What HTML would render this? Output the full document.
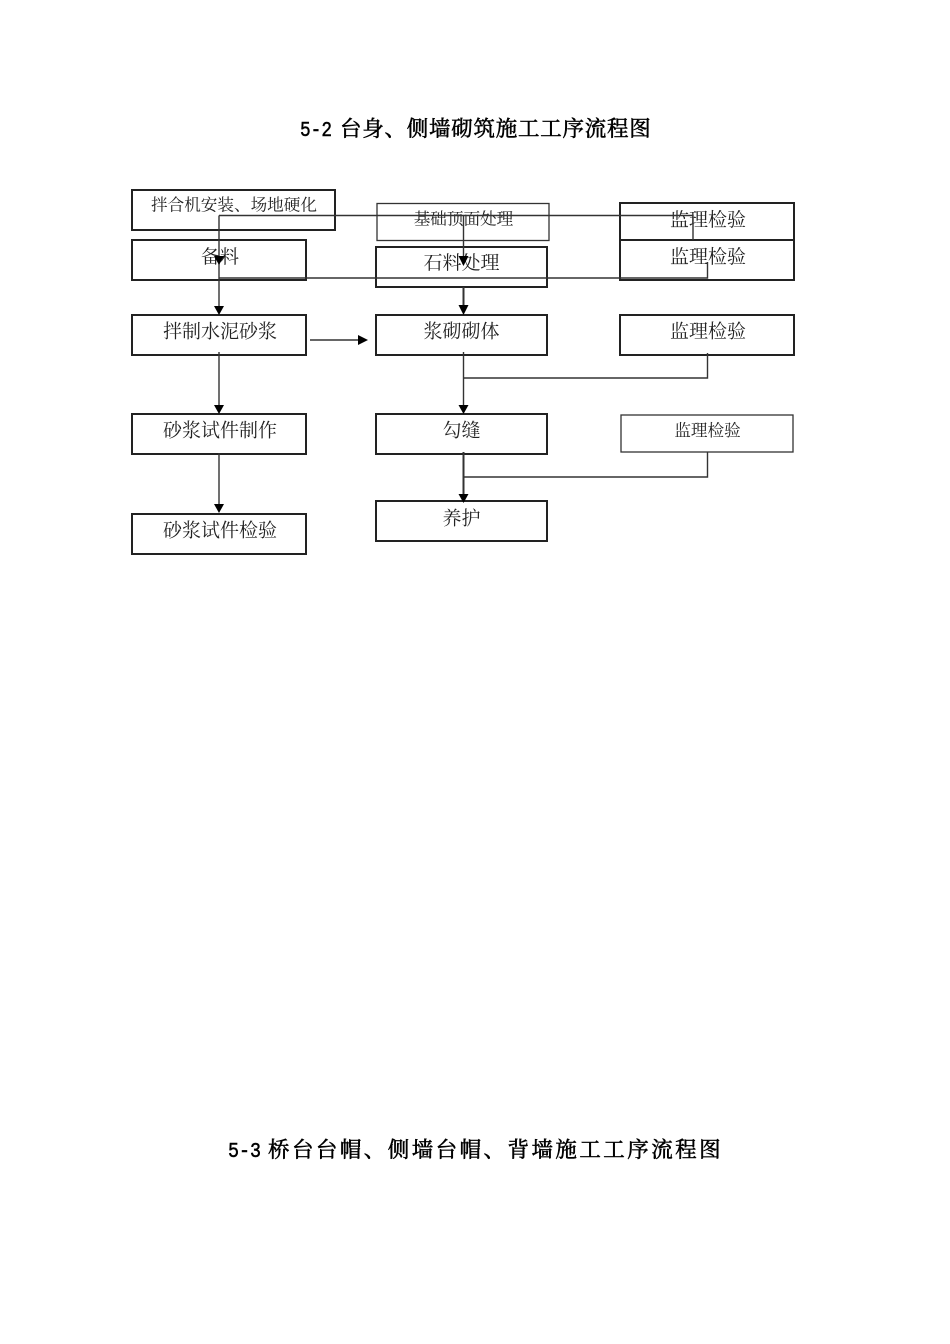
<!DOCTYPE html>
<html><head><meta charset="utf-8"><style>
html,body{margin:0;padding:0;background:#fff}
svg{display:block}
text{font-family:"Liberation Serif","Noto Serif CJK SC",serif;fill:#222}
.t{font-size:19px;text-anchor:middle}
.s{font-size:16.6px;text-anchor:middle}
.h{font-size:21.5px;fill:#000;stroke:#000;stroke-width:.55}
.h1{letter-spacing:.75px}
.h2{letter-spacing:2.45px}
.m{font-family:"Liberation Mono",monospace;font-size:21px;fill:#000;stroke:#000;stroke-width:.5}
rect{fill:none;stroke:#222;stroke-width:2}
rect.n{stroke-width:1.3;stroke:#333}
path.l{fill:none;stroke:#333;stroke-width:1.4}
path.a{fill:#000;stroke:none}
</style></head><body>
<svg width="950" height="1344" viewBox="0 0 950 1344" xmlns="http://www.w3.org/2000/svg">
<text class="m" x="300" y="136" textLength="32" lengthAdjust="spacingAndGlyphs">5-2</text>
<text class="h h1" x="340" y="136">台身、侧墙砌筑施工工序流程图</text>

<rect x="132" y="190" width="203" height="40"/>
<rect x="132" y="240" width="174" height="40"/>
<rect x="132" y="315" width="174" height="40"/>
<rect x="132" y="414" width="174" height="40"/>
<rect x="132" y="514" width="174" height="40"/>
<rect class="n" x="377" y="203.500" width="172" height="37"/>
<rect x="376" y="247" width="171" height="40"/>
<rect x="376" y="315" width="171" height="40"/>
<rect x="376" y="414" width="171" height="40"/>
<rect x="376" y="501" width="171" height="40"/>
<rect x="620" y="203" width="174" height="37"/>
<rect x="620" y="240" width="174" height="40"/>
<rect x="620" y="315" width="174" height="40"/>
<rect class="n" x="621" y="415" width="172" height="37"/>

<text class="s" x="234" y="210.500">拌合机安装、场地硬化</text>
<text class="t" x="220" y="263">备料</text>
<text class="t" x="220" y="337.500">拌制水泥砂浆</text>
<text class="t" x="220" y="436.500">砂浆试件制作</text>
<text class="t" x="220" y="536.500">砂浆试件检验</text>
<text class="s" x="463.500" y="224.500">基础顶面处理</text>
<text class="t" x="461.500" y="269">石料处理</text>
<text class="t" x="461.500" y="337.500">浆砌砌体</text>
<text class="t" x="461.500" y="436.500">勾缝</text>
<text class="t" x="461.500" y="524.500">养护</text>
<text class="t" x="708" y="226">监理检验</text>
<text class="t" x="708" y="263">监理检验</text>
<text class="t" x="708" y="337.500">监理检验</text>
<text class="s" x="707.500" y="436">监理检验</text>

<path class="l" d="M219 215.500H693V240"/>
<path class="l" d="M219 215.500V308"/>
<path class="l" d="M463.500 215.500V258"/>
<path class="l" d="M219 278H707.500V262"/>
<path class="l" d="M463.500 287V308" style="stroke-width:2"/>
<path class="l" d="M310 340H360"/>
<path class="l" d="M219 352V407"/>
<path class="l" d="M219 453V507"/>
<path class="l" d="M463.500 352V407"/>
<path class="l" d="M463.500 378H707.500V353"/>
<path class="l" d="M463.500 452V494" style="stroke-width:2"/>
<path class="l" d="M463.500 477H707.500V452"/>

<path class="a" d="M214 256H224L219 265Z"/>
<path class="a" d="M214 306H224L219 315Z"/>
<path class="a" d="M458.500 256H468.500L463.500 266Z"/>
<path class="a" d="M458.500 305H468.500L463.500 315Z"/>
<path class="a" d="M358 335V345L368 340Z"/>
<path class="a" d="M214 405H224L219 414Z"/>
<path class="a" d="M214 504H224L219 513Z"/>
<path class="a" d="M458.500 405H468.500L463.500 414Z"/>
<path class="a" d="M458.500 494H468.500L463.500 503Z"/>

<text class="m" x="228" y="1157" textLength="33" lengthAdjust="spacingAndGlyphs">5-3</text>
<text class="h h2" x="268" y="1157">桥台台帽、侧墙台帽、背墙施工工序流程图</text>
</svg>
</body></html>
